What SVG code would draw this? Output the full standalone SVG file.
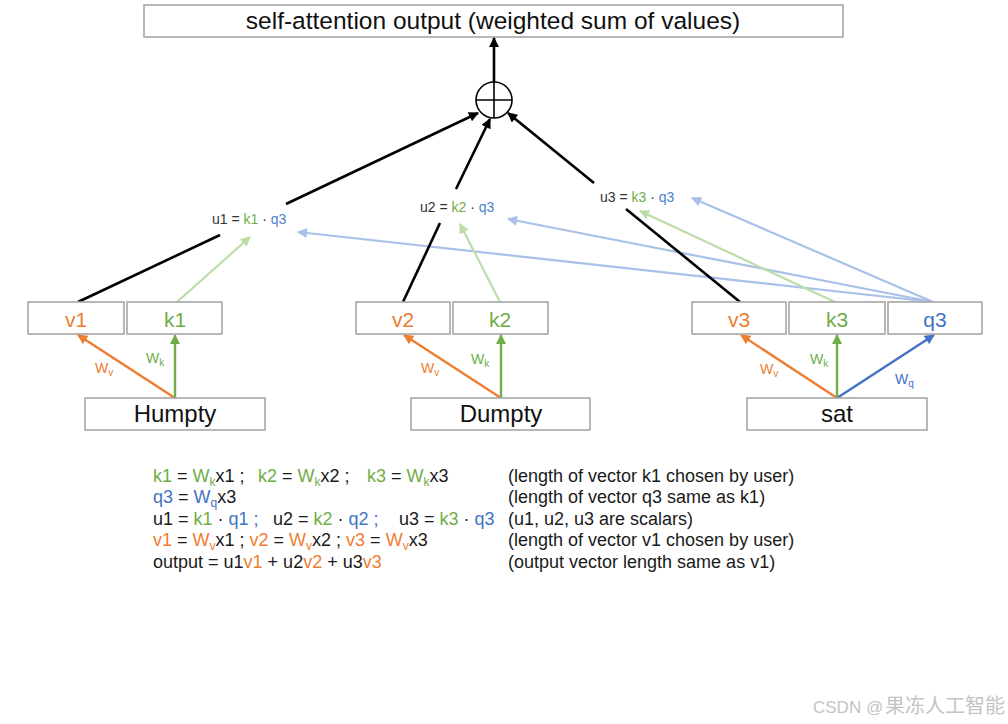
<svg xmlns="http://www.w3.org/2000/svg" width="1008" height="724" viewBox="0 0 1008 724">
<style>
.box{fill:#fff;stroke:#a6a6a6;stroke-width:1.6}
.t{font-family:"Liberation Sans",Arial,sans-serif}
.title{font-size:24.5px;fill:#111}
.vec{font-size:21px}
.word{font-size:24px;fill:#111}
.lab{font-size:14px;fill:#333}
.w{font-size:14px}
.eq{font-size:18px;fill:#1a1a1a}
.or{fill:#ed7d31}.gr{fill:#70ad47}.bl{fill:#4472c4}.lbl{fill:#4f7fcc}
.c-black{stroke:#000;stroke-width:2.6;fill:none}
.c-or{stroke:#ed7d31;stroke-width:2.4;fill:none}
.c-gr{stroke:#70ad47;stroke-width:2.4;fill:none}
.c-bl{stroke:#4472c4;stroke-width:2.4;fill:none}
.c-lg{stroke:#bcdda8;stroke-width:2.2;fill:none}
.c-lb{stroke:#a9c1e8;stroke-width:2.2;fill:none}
</style>
<defs>
<marker id="m-black" viewBox="0 0 10 10" refX="9" refY="5" markerWidth="11" markerHeight="10" markerUnits="userSpaceOnUse" orient="auto"><path d="M0,0 L10,5 L0,10 z" fill="#000"/></marker>
<marker id="m-or" viewBox="0 0 10 10" refX="9" refY="5" markerWidth="11" markerHeight="10" markerUnits="userSpaceOnUse" orient="auto"><path d="M0,0 L10,5 L0,10 z" fill="#ed7d31"/></marker>
<marker id="m-gr" viewBox="0 0 10 10" refX="9" refY="5" markerWidth="11" markerHeight="10" markerUnits="userSpaceOnUse" orient="auto"><path d="M0,0 L10,5 L0,10 z" fill="#70ad47"/></marker>
<marker id="m-bl" viewBox="0 0 10 10" refX="9" refY="5" markerWidth="11" markerHeight="10" markerUnits="userSpaceOnUse" orient="auto"><path d="M0,0 L10,5 L0,10 z" fill="#4472c4"/></marker>
<marker id="m-lg" viewBox="0 0 10 10" refX="9" refY="5" markerWidth="11" markerHeight="10" markerUnits="userSpaceOnUse" orient="auto"><path d="M0,0 L10,5 L0,10 z" fill="#bcdda8"/></marker>
<marker id="m-lb" viewBox="0 0 10 10" refX="9" refY="5" markerWidth="11" markerHeight="10" markerUnits="userSpaceOnUse" orient="auto"><path d="M0,0 L10,5 L0,10 z" fill="#a9c1e8"/></marker>
</defs>
<rect width="1008" height="724" fill="#fff"/>

<g id="output">
<rect class="box" x="144" y="5" width="699" height="32"/>
<text class="t title" x="493" y="29" text-anchor="middle">self-attention output (weighted sum of values)</text>
</g>

<g id="sum">
<circle cx="494" cy="100" r="18" fill="#fff" stroke="#000" stroke-width="1.6"/>
<line x1="476" y1="100" x2="512" y2="100" stroke="#000" stroke-width="1.6"/>
<line x1="494" y1="82" x2="494" y2="118" stroke="#000" stroke-width="1.6"/>
</g>

<g id="connectors">
<line class="c-lb" x1="933" y1="302" x2="298" y2="232" marker-end="url(#m-lb)"/>
<line class="c-lb" x1="933" y1="302" x2="508" y2="219" marker-end="url(#m-lb)"/>
<line class="c-lb" x1="933" y1="302" x2="692" y2="198" marker-end="url(#m-lb)"/>
<line class="c-lg" x1="177" y1="302" x2="250" y2="237" marker-end="url(#m-lg)"/>
<line class="c-lg" x1="500" y1="302" x2="460" y2="224" marker-end="url(#m-lg)"/>
<line class="c-lg" x1="835" y1="302" x2="640" y2="211" marker-end="url(#m-lg)"/>
<line class="c-black" x1="78" y1="302" x2="220" y2="235"/>
<line class="c-black" x1="286" y1="204" x2="478" y2="113" marker-end="url(#m-black)"/>
<line class="c-black" x1="403" y1="302" x2="440" y2="223"/>
<line class="c-black" x1="456" y1="189" x2="490" y2="119" marker-end="url(#m-black)"/>
<line class="c-black" x1="740" y1="302" x2="626" y2="209"/>
<line class="c-black" x1="594" y1="183" x2="508" y2="113" marker-end="url(#m-black)"/>
<line class="c-black" x1="494" y1="82" x2="494" y2="38" marker-end="url(#m-black)"/>
<line class="c-or" x1="175" y1="398" x2="78" y2="335" marker-end="url(#m-or)"/>
<line class="c-gr" x1="175" y1="398" x2="175" y2="335" marker-end="url(#m-gr)"/>
<line class="c-or" x1="501" y1="398" x2="404" y2="335" marker-end="url(#m-or)"/>
<line class="c-gr" x1="501" y1="398" x2="501" y2="335" marker-end="url(#m-gr)"/>
<line class="c-or" x1="837" y1="398" x2="741" y2="335" marker-end="url(#m-or)"/>
<line class="c-gr" x1="837" y1="398" x2="837" y2="335" marker-end="url(#m-gr)"/>
<line class="c-bl" x1="837" y1="398" x2="934" y2="335" marker-end="url(#m-bl)"/>
<text class="t w or" x="95" y="373">W<tspan font-size="10" dy="3">v</tspan></text>
<text class="t w gr" x="146" y="363">W<tspan font-size="10" dy="3">k</tspan></text>
<text class="t w or" x="421" y="373">W<tspan font-size="10" dy="3">v</tspan></text>
<text class="t w gr" x="471" y="364">W<tspan font-size="10" dy="3">k</tspan></text>
<text class="t w or" x="760" y="374">W<tspan font-size="10" dy="3">v</tspan></text>
<text class="t w gr" x="810" y="364">W<tspan font-size="10" dy="3">k</tspan></text>
<text class="t w bl" x="895" y="384">W<tspan font-size="10" dy="3">q</tspan></text>
</g>

<g id="u1">
<text class="t lab" x="212" y="224">u1 = <tspan class="gr">k1</tspan> · <tspan class="lbl">q3</tspan></text>
</g>
<g id="u2">
<text class="t lab" x="420" y="212">u2 = <tspan class="gr">k2</tspan> · <tspan class="lbl">q3</tspan></text>
</g>
<g id="u3">
<text class="t lab" x="600" y="202">u3 = <tspan class="gr">k3</tspan> · <tspan class="lbl">q3</tspan></text>
</g>

<g id="v1"><rect class="box" x="28" y="302" width="96" height="32"/><text class="t vec or" x="76" y="327" text-anchor="middle">v1</text></g>
<g id="k1"><rect class="box" x="127" y="302" width="95" height="32"/><text class="t vec gr" x="175" y="327" text-anchor="middle">k1</text></g>
<g id="v2"><rect class="box" x="356" y="302" width="94" height="32"/><text class="t vec or" x="403" y="327" text-anchor="middle">v2</text></g>
<g id="k2"><rect class="box" x="453" y="302" width="95" height="32"/><text class="t vec gr" x="500" y="327" text-anchor="middle">k2</text></g>
<g id="v3"><rect class="box" x="692" y="302" width="94" height="32"/><text class="t vec or" x="739" y="327" text-anchor="middle">v3</text></g>
<g id="k3"><rect class="box" x="789" y="302" width="96" height="32"/><text class="t vec gr" x="837" y="327" text-anchor="middle">k3</text></g>
<g id="q3"><rect class="box" x="888" y="302" width="94" height="32"/><text class="t vec bl" x="935" y="327" text-anchor="middle">q3</text></g>

<g id="humpty"><rect class="box" x="85" y="398" width="180" height="32"/><text class="t word" x="175" y="422" text-anchor="middle">Humpty</text></g>
<g id="dumpty"><rect class="box" x="411" y="398" width="179" height="32"/><text class="t word" x="501" y="422" text-anchor="middle">Dumpty</text></g>
<g id="sat"><rect class="box" x="747" y="398" width="180" height="32"/><text class="t word" x="837" y="422" text-anchor="middle">sat</text></g>

<g id="equations" class="t eq">
<text x="153" y="482"><tspan class="gr">k1</tspan> = <tspan class="gr">W</tspan><tspan class="gr" font-size="12" dy="4">k</tspan><tspan dy="-4">x1 ;</tspan></text>
<text x="258" y="482"><tspan class="gr">k2</tspan> = <tspan class="gr">W</tspan><tspan class="gr" font-size="12" dy="4">k</tspan><tspan dy="-4">x2 ;</tspan></text>
<text x="367" y="482"><tspan class="gr">k3</tspan> = <tspan class="gr">W</tspan><tspan class="gr" font-size="12" dy="4">k</tspan><tspan dy="-4">x3</tspan></text>
<text x="153" y="503"><tspan class="bl">q3</tspan> = <tspan class="bl">W</tspan><tspan class="bl" font-size="12" dy="4">q</tspan><tspan dy="-4">x3</tspan></text>
<text x="153" y="525">u1 = <tspan class="gr">k1</tspan> · <tspan class="bl">q1 ;</tspan></text>
<text x="273" y="525">u2 = <tspan class="gr">k2</tspan> · <tspan class="bl">q2 ;</tspan></text>
<text x="399" y="525">u3 = <tspan class="gr">k3</tspan> · <tspan class="bl">q3</tspan></text>
<text x="153" y="546"><tspan class="or">v1</tspan> = <tspan class="or">W</tspan><tspan class="or" font-size="12" dy="4">v</tspan><tspan dy="-4">x1 ; </tspan><tspan class="or">v2</tspan> = <tspan class="or">W</tspan><tspan class="or" font-size="12" dy="4">v</tspan><tspan dy="-4">x2 ; </tspan><tspan class="or">v3</tspan> = <tspan class="or">W</tspan><tspan class="or" font-size="12" dy="4">v</tspan><tspan dy="-4">x3</tspan></text>
<text x="153" y="568">output = u1<tspan class="or">v1</tspan> + u2<tspan class="or">v2</tspan> + u3<tspan class="or">v3</tspan></text>
<text x="508" y="482">(length of vector k1 chosen by user)</text>
<text x="508" y="503">(length of vector q3 same as k1)</text>
<text x="508" y="525">(u1, u2, u3 are scalars)</text>
<text x="508" y="546">(length of vector v1 chosen by user)</text>
<text x="508" y="568">(output vector length same as v1)</text>
</g>

<g id="watermark">
<text x="813" y="713" font-family="'Liberation Sans','Noto Sans CJK SC',sans-serif" font-size="17" fill="#c4c4c4">CSDN @<tspan x="885" font-size="20">果冻人工智能</tspan></text>
</g>
</svg>
